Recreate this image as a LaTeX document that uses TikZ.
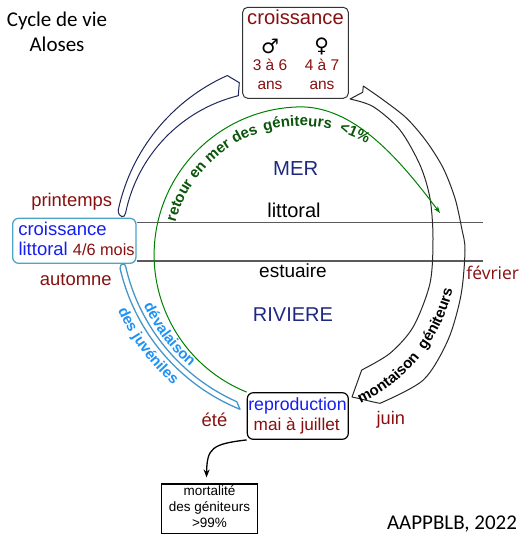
\documentclass[tikz,border=0pt]{standalone}
\usepackage{fontspec}
\setmainfont{Liberation Sans}
\newfontfamily\carl{Carlito}
\newfontfamily\opsans{Open Sans}
\newfontfamily\djv{DejaVu Sans}
\usetikzlibrary{arrows.meta}
\definecolor{dred}{RGB}{135,15,15}
\definecolor{bblue}{RGB}{20,30,240}
\definecolor{navyt}{RGB}{30,40,130}
\definecolor{gline}{RGB}{0,128,0}
\definecolor{gtxt}{RGB}{10,85,10}
\definecolor{bandnavy}{RGB}{30,40,90}
\definecolor{bandgray}{RGB}{40,40,40}
\definecolor{sky}{RGB}{70,150,200}
\definecolor{skytxt}{RGB}{30,145,245}
\definecolor{lbox}{RGB}{75,165,200}
\definecolor{hline}{RGB}{90,90,90}
\newcommand\fz[1]{\fontsize{#1}{#1}\selectfont}
\newcount\chcnt
\makeatletter
\newcommand\arcsetup[7]{\xdef\arc@cx{#1}\xdef\arc@cy{#2}\xdef\arc@r{#3}\xdef\arc@ang{#4}\xdef\arc@dir{#5}\xdef\arc@sz{#6}\gdef\arc@font{#7}}
\newcommand\ac[2]{%
  \pgfmathsetmacro\arc@w{#2*\arc@sz/1000/\arc@r*57.29578}%
  \pgfmathsetmacro\arc@mid{\arc@ang + \arc@dir*0.5*\arc@w}%
  \pgfmathsetmacro\arc@x{\arc@cx + \arc@r*cos(\arc@mid)}%
  \pgfmathsetmacro\arc@y{\arc@cy + \arc@r*sin(\arc@mid)}%
  \pgfmathsetmacro\arc@rot{180 + \arc@dir*90 - \arc@mid}%
  \global\advance\chcnt by 1\relax
  \node[inner sep=0pt, anchor=base, rotate=\arc@rot] (ch\the\chcnt) at (\arc@x,\arc@y) {\arc@font #1};%
  \pgfmathsetmacro\arc@nxt{\arc@ang + \arc@dir*\arc@w}%
  \xdef\arc@ang{\arc@nxt}}
\newcommand\asp[1]{%
  \pgfmathsetmacro\arc@nxt{\arc@ang + \arc@dir*#1*\arc@sz/1000/\arc@r*57.29578}%
  \xdef\arc@ang{\arc@nxt}}
\makeatother
\begin{document}
\begin{tikzpicture}[x=1pt,y=-1pt,
  txt/.style={inner sep=0pt, anchor=base},
]
\useasboundingbox (0,0) rectangle (529,541);
% boxes
\node[draw=black!80, line width=1pt, rounded corners=5pt, minimum width=105.6pt, minimum height=91pt, inner sep=0pt] (cbox) at (295.5,52.8) {};
\node[draw=lbox, line width=1.3pt, rounded corners=6pt, minimum width=123.3pt, minimum height=45pt, inner sep=0pt] (clbox) at (74.3,240.8) {};
\node[draw=black, line width=1.2pt, rounded corners=6pt, minimum width=101pt, minimum height=46.6pt, inner sep=0pt] (repro) at (297.8,416) {};
\node[draw=black, line width=1.2pt, minimum width=95.6pt, minimum height=49.3pt, inner sep=0pt] (mort) at (209.5,508.7) {};
% horizontal lines
\coordinate (l1) at (483,222.7);
\coordinate (l2) at (483,261);
\draw[hline, line width=1.1pt] (clbox.east |- l1) -- (l1);
\draw[hline, line width=1.1pt] (clbox.east |- l2) -- (l2);
% navy band
\draw[bandnavy, line width=1pt, line join=round]
  (118.2,210.3) arc[start angle=192, end angle=246, radius=191]
  -- (239.3,82.7) -- (238.3,95.7)
  arc[start angle=256.2, end angle=191.5, radius=152]
  .. controls (125,218.5) and (118.5,218) .. (118.2,210.3) -- cycle;
% right band
\draw[bandgray, line width=1pt, line join=round]
  (363.3,86) -- (362.7,92.3) -- (350,99)
  -- plot[smooth] coordinates {(350,99) (373.3,106.7) (400,130) (420,165) (430,198.3) (433,238.3) (430,283.3) (413.3,326.7) (390,353.3) (361.7,370)}
  -- (352,397) .. controls (362,399) and (372,402) .. (380,403.3)
  -- plot[smooth] coordinates {(380,403.3) (423.3,380) (448,340) (461,295) (465,250) (461.7,228.3) (455,198.3) (443.3,168.3) (426.7,141.7) (406.7,118.3) (383.3,100) (363.3,86)}
  -- cycle;
% blue band
\draw[sky, line width=1.3pt, line join=round]
  (240,409.3) arc[start angle=112.2, end angle=167, radius=201]
  .. controls (119.5,263.4) and (125.5,262.1) .. (125.8,267.1)
  arc[start angle=167, end angle=114, radius=195.5] -- cycle;
% green arc
\draw[gline, line width=1pt, -{Stealth[length=7pt,width=5pt]}]
  (repro.north west) arc[start angle=112, end angle=270, radius=148]
  .. controls (356,108) and (400,160) .. (440,213);
% reproduction -> mortality
\draw[line width=1.3pt, -{Stealth[length=8pt,width=6pt]}]
  (repro.south west) .. controls (212,444) and (207,448) .. ([shift={(-3,-6)}]mort.north);
% curved texts
\arcsetup{301}{256}{130}{195}{1}{15}{\bfseries\fz{15}\color{gtxt}}
\ac{r}{389}\ac{e}{556}\ac{t}{333}\ac{o}{611}\ac{u}{611}\ac{r}{389}\asp{278}%
\ac{e}{556}\ac{n}{611}\asp{278}\ac{m}{889}\ac{e}{556}\ac{r}{389}\asp{278}%
\ac{d}{611}\ac{e}{556}\ac{s}{556}\asp{417}%
\ac{g}{611}\ac{é}{556}\ac{n}{611}\ac{i}{278}\ac{t}{333}\ac{e}{556}\ac{u}{611}\ac{r}{389}\ac{s}{556}\asp{556}%
\ac{<}{584}\ac{1}{556}\ac{\%}{889}
\arcsetup{290}{252}{167}{65}{-1}{15}{\bfseries\fz{15}\color{black}}
\ac{m}{889}\ac{o}{611}\ac{n}{611}\ac{t}{333}\ac{a}{556}\ac{i}{278}\ac{s}{556}\ac{o}{611}\ac{n}{611}\asp{556}%
\ac{g}{611}\ac{é}{556}\ac{n}{611}\ac{i}{278}\ac{t}{333}\ac{e}{556}\ac{u}{611}\ac{r}{389}\ac{s}{556}
\arcsetup{315.8}{223.2}{191}{154.4}{-1}{15}{\bfseries\fz{15}\color{skytxt}}
\ac{d}{611}\ac{é}{556}\ac{v}{556}\ac{a}{556}\ac{l}{278}\ac{a}{556}\ac{i}{278}\ac{s}{556}\ac{o}{611}\ac{n}{611}
\arcsetup{315.8}{223.2}{216}{156.3}{-1}{15}{\bfseries\fz{15}\color{skytxt}}
\ac{d}{611}\ac{e}{556}\ac{s}{556}\asp{278}%
\ac{j}{278}\ac{u}{611}\ac{v}{556}\ac{é}{556}\ac{n}{611}\ac{i}{278}\ac{l}{278}\ac{e}{556}\ac{s}{556}
% box texts
\node[txt, dred, font=\fz{20.2}] (tcrois) at (295.5,24) {croissance};
\node[inner sep=0pt, font=\djv\fz{20}] (male) at (270,46) {♂};
\node[inner sep=0pt, font=\djv\fz{20}] (female) at (321.7,46) {♀};
\node[txt, dred, font=\fz{15.5}] (m1) at (270,70) {3 à 6};
\node[txt, dred, font=\fz{15.5}] (m2) at (270,89.3) {ans};
\node[txt, dred, font=\fz{15.5}] (f1) at (322,70) {4 à 7};
\node[txt, dred, font=\fz{15.5}] (f2) at (322,89.3) {ans};
\node[txt, bblue, font=\fz{18.5}] (cl1) at (62.5,235) {croissance};
\node[txt, anchor=base west, font=\fz{18.5}] (cl2) at (18.3,255) {\textcolor{bblue}{littoral} \textcolor{dred}{\fz{16.3}4/6 mois}};
\node[txt, bblue, font=\fz{17.7}] (r1) at (297.5,410.7) {reproduction};
\node[txt, dred, font=\fz{17.2}] (r2) at (296.7,430) {mai à juillet};
\node[txt, font=\fz{13.5}] (mo1) at (209.5,495.7) {mortalité};
\node[txt, font=\fz{13.5}] (mo2) at (209.5,511.7) {des géniteurs};
\node[txt, font=\fz{13.5}] (mo3) at (209.5,527.7) {>99\%};
% zone labels
\node[txt, navyt, font=\fz{20.3}] (mer) at (295.8,175) {MER};
\node[txt, font=\fz{20}] (litt) at (294,217) {littoral};
\node[txt, font=\fz{19}] (estu) at (293,277.5) {estuaire};
\node[txt, navyt, font=\fz{20}] (riv) at (293,321.7) {RIVIERE};
% season labels
\node[txt, dred, font=\fz{18.4}] (prin) at (71.7,206.7) {printemps};
\node[txt, dred, font=\fz{18.4}] (aut) at (75.8,285) {automne};
\node[txt, dred, font=\fz{18.4}] (ete) at (214.5,426.7) {été};
\node[txt, dred, font=\fz{18.2}] (juin) at (390.8,424) {juin};
\node[txt, dred, font=\opsans\fz{17.5}] (fev) at (492.7,279.3) {février};
% titles
\node[txt, font=\carl\fz{21}] (title1) at (57,26) {Cycle de vie};
\node[txt, font=\carl\fz{21}] (title2) at (57,51.7) {Aloses};
\node[txt, font=\carl\fz{21}] (credit) at (452,529) {AAPPBLB, 2022};
\end{tikzpicture}
\end{document}
